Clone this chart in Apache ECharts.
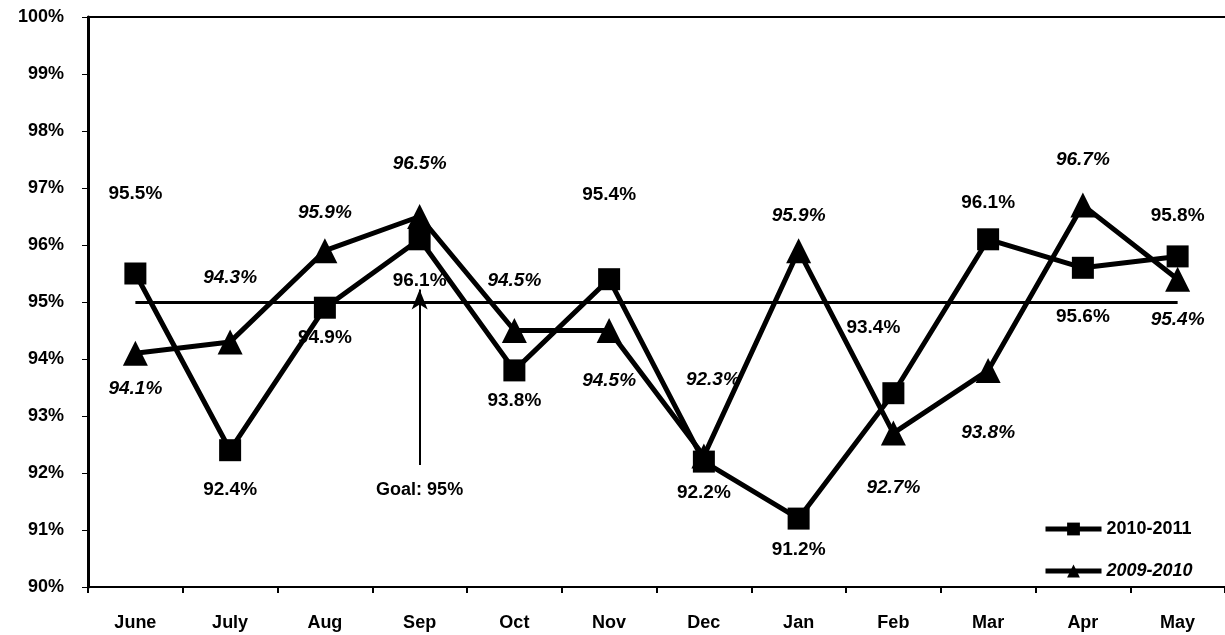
<!DOCTYPE html>
<html>
<head>
<meta charset="utf-8">
<script src="https://cdn.jsdelivr.net/npm/echarts@6/dist/echarts.min.js"></script>
<style>
  html, body { margin: 0; padding: 0; background: #fff; }
  #chart { width: 1225px; height: 635px; }
</style>
</head>
<body>
<div id="chart"></div>
<script>
const months = ['June', 'July', 'Aug', 'Sep', 'Oct', 'Nov', 'Dec', 'Jan', 'Feb', 'Mar', 'Apr', 'May']
const fy2011 = [95.5, 92.4, 94.9, 96.1, 93.8, 95.4, 92.2, 91.2, 93.4, 96.1, 95.6, 95.8]
const fy2010 = [94.1, 94.3, 95.9, 96.5, 94.5, 94.5, 92.3, 95.9, 92.7, 93.8, 96.7, 95.4]
const goal = 95

// label offsets [dx, dy] relative to each point
const offs2011 = [[0, -80], [0, 40], [0, 30], [0, 41], [0, 30], [0, -84], [0, 31], [0, 31], [-20, -65], [0, -37], [0, 49], [0, -41]]
const offs2010 = [[0, 35], [0, -64], [0, -38], [0, -53], [0, -50], [0, 50], [9, -76], [0, -35], [0, 55], [0, 62], [0, -45], [0, 41]]

const font = 'Liberation Sans, Arial, sans-serif'

const chart = echarts.init(document.getElementById('chart'))

const mkData = (vals, offs, italic) => vals.map((v, i) => ({
  value: v,
  label: {
    show: true,
    position: 'inside',
    offset: offs[i],
    formatter: v.toFixed(1) + '%',
    color: '#000',
    fontFamily: font,
    fontWeight: 'bold',
    fontStyle: italic ? 'italic' : 'normal',
    fontSize: 19
  }
}))

chart.setOption({
  animation: false,
  grid: { left: 88, right: 0, top: 17, bottom: 48 },
  legend: {
    orient: 'vertical',
    left: 1038,
    top: 515,
    itemWidth: 56,
    itemHeight: 16,
    itemGap: 24,
    data: ['2010-2011', '2009-2010'],
    lineStyle: { width: 5 },
    formatter: n => n === '2009-2010' ? '{i|' + n + '}' : '{b|' + n + '}',
    textStyle: {
      rich: {
        b: { fontFamily: font, fontWeight: 'bold', fontSize: 18, color: '#000' },
        i: { fontFamily: font, fontWeight: 'bold', fontStyle: 'italic', fontSize: 18, color: '#000' }
      }
    }
  },
  xAxis: [{
    type: 'category',
    data: months,
    axisLine: { lineStyle: { color: '#000', width: 2 } },
    axisTick: { show: true, length: 6, lineStyle: { color: '#000', width: 2 } },
    axisLabel: { color: '#000', fontFamily: font, fontWeight: 'bold', fontSize: 18, margin: 27 }
  }, {
    type: 'category',
    position: 'top',
    data: months,
    axisLine: { lineStyle: { color: '#000', width: 2 } },
    axisTick: { show: false },
    axisLabel: { show: false }
  }],
  yAxis: {
    type: 'value',
    min: 90,
    max: 100,
    interval: 1,
    axisLine: { show: true, lineStyle: { color: '#000', width: 3 } },
    axisTick: { show: true, length: 6, lineStyle: { color: '#000', width: 1 } },
    splitLine: { show: false },
    axisLabel: {
      color: '#000', fontFamily: font, fontWeight: 'bold', fontSize: 18, margin: 24,
      formatter: v => v + '%'
    }
  },
  series: [{
    name: '2010-2011',
    type: 'line',
    data: mkData(fy2011, offs2011, false),
    symbol: 'rect',
    symbolSize: 22,
    itemStyle: { color: '#000' },
    lineStyle: { color: '#000', width: 5 },
    z: 3,
    markLine: {
      silent: true,
      symbol: ['none', 'none'],
      lineStyle: { color: '#000', width: 3, type: 'solid' },
      label: { show: false },
      data: [[{ xAxis: 'June', yAxis: goal }, { xAxis: 'May', yAxis: goal }]]
    }
  }, {
    name: '2009-2010',
    type: 'line',
    data: mkData(fy2010, offs2010, true),
    symbol: 'triangle',
    symbolSize: 25,
    itemStyle: { color: '#000' },
    lineStyle: { color: '#000', width: 5 },
    z: 4,
    markLine: {
      silent: true,
      symbol: ['none', 'arrow'],
      symbolSize: [12, 20],
      lineStyle: { color: '#000', width: 2, type: 'solid' },
      label: {
        show: true,
        position: 'start',
        distance: 16,
        formatter: 'Goal: 95%',
        color: '#000', fontFamily: font, fontWeight: 'bold', fontSize: 18
      },
      data: [[{ xAxis: 'Sep', yAxis: 92.14 }, { xAxis: 'Sep', yAxis: 95.22 }]]
    }
  }]
})
</script>
</body>
</html>
